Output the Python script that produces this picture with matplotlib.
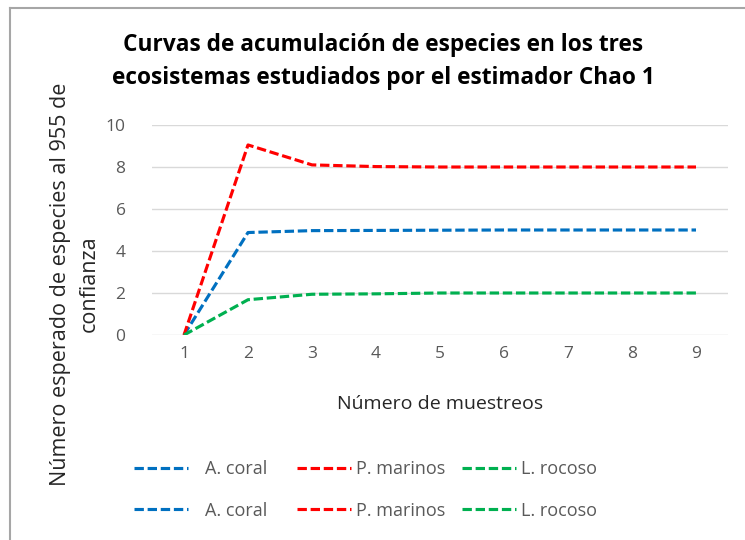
import matplotlib
matplotlib.use("Agg")
import matplotlib.pyplot as plt
import matplotlib.lines as mLines

# muestreos (categorias del eje x)
muestreos = [1, 2, 3, 4, 5, 6, 7, 8, 9]

# valores estimados (Chao 1)
coral = [0, 4.88, 4.97, 4.98, 4.99, 5.0, 5.0, 5.0, 5.0]
marinos = [0, 9.05, 8.1, 8.02, 8.0, 8.0, 8.0, 8.0, 8.0]
rocoso = [0, 1.68, 1.94, 1.96, 2.0, 2.0, 2.0, 2.0, 2.0]

series = [
    ("A. coral", coral, "#0070C0"),
    ("P. marinos", marinos, "#FF0000"),
    ("L. rocoso", rocoso, "#00B050"),
]

plt.rcParams['font.family'] = ['Open Sans', 'DejaVu Sans']
gray = "#595959"

fig = plt.figure(figsize=(7.45, 5.4), dpi=100)
ax = fig.add_axes([152 / 745, 1 - 335 / 540, (728 - 152) / 745, (335 - 125) / 540])

handles = []
for name, vals, color in series:
    line, = ax.plot(muestreos, vals, color=color, lw=2.25, dashes=(3, 1.2),
                    solid_capstyle='butt', dash_capstyle='butt', label=name)
    handles.append(line)

ax.set_xlim(0.5, 9.5)
ax.set_ylim(0, 10)
ax.set_yticks(range(0, 11, 2))
ax.set_xticks(muestreos)
ax.grid(True, axis='y', color='#D9D9D9', lw=1)
ax.set_axisbelow(True)
for s in ax.spines.values():
    s.set_visible(False)
ax.tick_params(length=0, labelsize=12.5, colors=gray, pad=8)
ax.tick_params(axis='y', pad=19)

ax.set_xlabel("Número de muestreos", fontsize=14, color='#262626', labelpad=24)

fig.text(383 / 745, 1 - 45 / 540, "Curvas de acumulación de especies en los tres",
         ha='center', va='center', fontsize=16.3, fontweight='bold', color='black')
fig.text(383 / 745, 1 - 78 / 540, "ecosistemas estudiados por el estimador Chao 1",
         ha='center', va='center', fontsize=16.3, fontweight='bold', color='black')

fig.text(75 / 745, 1 - 284 / 540, "Número esperado de especies al 955 de\nconfianza",
         rotation=90, ha='center', va='center', multialignment='center',
         fontsize=15.5, color='#262626', linespacing=1.45)

# leyenda repetida en dos filas, una columna por serie
col_x = [125, 288, 453]
for (name, vals, color), h, x in zip(series, handles, col_x):
    leg = fig.legend([h, h], [name, name], loc='upper left',
                     bbox_to_anchor=(x / 745, 1 - 451 / 540),
                     frameon=False, fontsize=13, handlelength=3.0,
                     handletextpad=0.95 if name == "A. coral" else 0.25,
                     labelspacing=1.3, borderpad=0)
    for t in leg.get_texts():
        t.set_color(gray)

# borde del area del grafico (solo arriba e izquierda visibles)
fig.add_artist(mLines.Line2D([10 / 745, 10 / 745], [0, 1 - 8 / 540], color='#A6A6A6', lw=1.5))
fig.add_artist(mLines.Line2D([10 / 745, 1], [1 - 8 / 540, 1 - 8 / 540], color='#A6A6A6', lw=1.5))

fig.savefig("out.png", dpi=100)
